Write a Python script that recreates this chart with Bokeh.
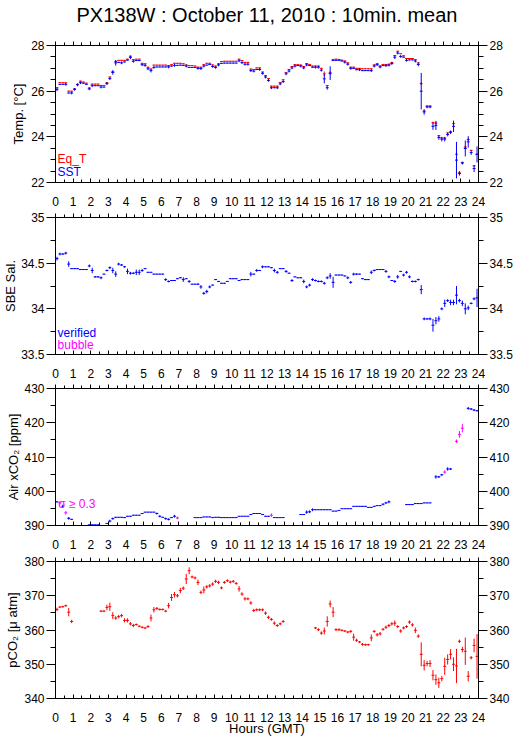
import numpy as np
from bokeh.plotting import figure
from bokeh.models import Range1d, LinearAxis, FixedTicker, Label
from bokeh.layouts import column
from bokeh.embed import file_html
from bokeh.resources import INLINE

N = None
FONT = "Liberation Sans"

title_text = "PX138W : October 11, 2010 : 10min. mean"
hour_ticks = list(range(25))
hour_minor = [h + 0.5 for h in range(24)]

# ---- Panel 1: temperatures (10-min bins, 6 per hour) ----
sst = [
    26.08, 26.30, 26.30, 26.30, 25.92, 25.92,
    26.08, 26.28, 26.37, 26.35, 26.30, 26.10,
    26.24, 26.24, 26.24, 26.18, 26.18, 26.33,
    26.55, 26.82, 27.24, 27.26, 27.24, 27.28,
    27.36, 27.48, 27.31, 27.34, 27.34, 27.16,
    27.13, 26.98, 26.90, 27.04, 27.06, 27.06,
    27.06, 27.06, 27.06, 27.10, 27.13, 27.13,
    27.14, 27.13, 27.10, 27.04, 27.04, 27.04,
    27.00, 26.99, 27.10, 27.14, 27.17, 27.08,
    27.04, 27.15, 27.22, 27.23, 27.23, 27.23,
    27.23, 27.23, 27.33, 27.25, 27.18, 27.18,
    26.90, 26.88, 26.95, 26.95, 26.78, 26.62,
    26.47, 26.15, 26.15, 26.15, 26.32, 26.42,
    26.76, 26.88, 27.02, 27.10, 27.12, 27.10,
    27.02, 27.15, 27.12, 27.05, 27.05, 27.05,
    26.92, 26.54, 26.15, 26.79, 27.34, 27.35,
    27.35, 27.32, 27.27, 27.18, 27.00, 27.00,
    26.94, 26.94, 26.90, 26.90, 26.90, 26.90,
    27.10, 27.16, 27.06, 27.12, 27.12, 27.14,
    27.21, 27.49, 27.67, 27.52, 27.49, 27.35,
    27.37, 27.37, 27.32, 27.17, 26.00, 25.09,
    25.31, 25.31, 24.46, 24.50, 23.97, 23.90,
    23.90, 24.10, 24.20, 24.46, 22.98, 22.40,
    22.85, 23.49, 23.78, 23.31, 22.61, 23.23,
]
sst_err = [
    0.08, 0.02, 0.02, 0.06, 0.02, 0.06,
    0.06, 0.06, 0.06, 0.02, 0.02, 0.06,
    0.06, 0.02, 0.02, 0.06, 0.02, 0.06,
    0.06, 0.10, 0.12, 0.02, 0.06, 0.02,
    0.02, 0.08, 0.06, 0.02, 0.02, 0.06,
    0.06, 0.06, 0.08, 0.06, 0.02, 0.02,
    0.02, 0.02, 0.06, 0.02, 0.06, 0.02,
    0.02, 0.02, 0.06, 0.02, 0.02, 0.02,
    0.06, 0.06, 0.06, 0.02, 0.02, 0.06,
    0.06, 0.06, 0.02, 0.02, 0.02, 0.02,
    0.02, 0.02, 0.06, 0.06, 0.06, 0.06,
    0.06, 0.06, 0.02, 0.06, 0.06, 0.06,
    0.06, 0.06, 0.02, 0.06, 0.06, 0.06,
    0.06, 0.06, 0.06, 0.06, 0.02, 0.06,
    0.06, 0.06, 0.02, 0.02, 0.06, 0.06,
    0.06, 0.20, 0.08, 0.30, 0.02, 0.02,
    0.02, 0.02, 0.06, 0.06, 0.06, 0.02,
    0.02, 0.06, 0.02, 0.02, 0.02, 0.06,
    0.06, 0.06, 0.06, 0.02, 0.06, 0.06,
    0.06, 0.08, 0.06, 0.06, 0.02, 0.06,
    0.02, 0.02, 0.06, 0.08, 0.80, 0.12,
    0.06, 0.06, 0.15, 0.20, 0.10, 0.10,
    0.10, 0.08, 0.08, 0.25, 0.80, 0.10,
    0.06, 0.35, 0.25, 0.10, 0.15, 0.35,
]
eqt = [
    26.15, 26.37, 26.37, 26.37, 26.00, 26.00,
    26.10, 26.30, 26.44, 26.40, 26.35, 26.14,
    26.31, 26.31, 26.31, 26.25, 26.25, 26.37,
    26.62, 26.85, 27.30, 27.35, 27.35, 27.35,
    27.40, 27.53, 27.38, 27.40, 27.40, 27.22,
    27.20, 27.05, 26.97, 27.14, 27.14, 27.14,
    27.14, 27.14, 27.12, 27.16, 27.22, 27.22,
    27.22, 27.20, 27.15, 27.12, 27.12, 27.10,
    27.05, 27.05, 27.16, 27.22, 27.22, 27.15,
    27.10, 27.20, 27.30, 27.31, 27.31, 27.31,
    27.31, 27.31, 27.40, 27.34, 27.26, 27.26,
    26.97, 26.95, 27.02, 27.02, 26.84, 26.68,
    26.55, 26.22, 26.22, 26.22, 26.38, 26.50,
    26.82, 26.95, 27.08, 27.16, 27.16, 27.14,
    27.08, 27.21, 27.17, 27.10, 27.10, 27.10,
    27.00, 26.76, 26.25, 26.79, 27.39, 27.40,
    27.39, 27.36, 27.32, 27.24, 27.05, 27.05,
    27.00, 27.00, 26.98, 26.98, 26.98, 26.98,
    27.15, 27.20, 27.10, 27.17, 27.17, 27.18,
    27.26, 27.56, 27.75, 27.64, 27.55, 27.43,
    27.43, 27.43, 27.38, 27.24, 26.33, 25.13,
    25.35, 25.35, 24.62, 24.60, 24.05, 23.95,
    23.95, 24.17, 24.22, 24.58, 23.24, 22.42,
    22.88, 23.55, 23.88, 23.41, 22.73, 23.24,
]
eqt_err = [
    0.02, 0.02, 0.02, 0.02, 0.02, 0.02,
    0.02, 0.02, 0.02, 0.02, 0.02, 0.02,
    0.02, 0.02, 0.02, 0.02, 0.02, 0.02,
    0.02, 0.02, 0.06, 0.02, 0.02, 0.02,
    0.02, 0.02, 0.02, 0.02, 0.02, 0.02,
    0.02, 0.02, 0.02, 0.02, 0.02, 0.02,
    0.02, 0.02, 0.02, 0.02, 0.02, 0.02,
    0.02, 0.02, 0.02, 0.02, 0.02, 0.02,
    0.02, 0.02, 0.02, 0.02, 0.02, 0.02,
    0.02, 0.02, 0.02, 0.02, 0.02, 0.02,
    0.02, 0.02, 0.02, 0.02, 0.02, 0.02,
    0.02, 0.02, 0.02, 0.02, 0.02, 0.02,
    0.02, 0.02, 0.02, 0.02, 0.02, 0.02,
    0.02, 0.02, 0.02, 0.02, 0.02, 0.02,
    0.02, 0.02, 0.02, 0.02, 0.02, 0.02,
    0.02, 0.10, 0.02, 0.08, 0.02, 0.02,
    0.02, 0.02, 0.02, 0.02, 0.02, 0.02,
    0.02, 0.02, 0.02, 0.02, 0.02, 0.02,
    0.02, 0.02, 0.02, 0.02, 0.02, 0.02,
    0.02, 0.02, 0.02, 0.02, 0.02, 0.02,
    0.02, 0.02, 0.02, 0.02, 0.06, 0.02,
    0.02, 0.02, 0.05, 0.06, 0.02, 0.02,
    0.02, 0.02, 0.02, 0.06, 0.10, 0.02,
    0.02, 0.06, 0.06, 0.02, 0.02, 0.02,
]

# ---- Panel 2: SBE salinity ----
sal = [
    34.55, 34.60, 34.60, 34.61, 34.49, 34.44,
    34.44, 34.44, 34.43, 34.43, 34.43, 34.47,
    34.42, 34.35, 34.35, 34.34, 34.38, 34.42,
    34.45, 34.42, 34.38, 34.49, 34.48, 34.46,
    34.41, 34.39, 34.39, 34.40, 34.40, 34.42,
    34.44, 34.40, 34.40, 34.38, 34.38, 34.38,
    34.38, 34.32, 34.30, 34.31, 34.31, 34.33,
    34.34, 34.32, 34.33, 34.30, 34.27, 34.27,
    34.27, 34.24, 34.17, 34.19, 34.24, 34.26,
    34.32, 34.30, 34.28, 34.28, 34.30, 34.33,
    34.33, 34.33, 34.31, 34.32, 34.32, 34.32,
    34.38, 34.38, 34.42, 34.42, 34.46, 34.46,
    34.46, 34.45, 34.42, 34.40, 34.44, 34.44,
    34.41, 34.39, 34.31, 34.35, 34.34, 34.34,
    34.30, 34.24, 34.26, 34.32, 34.31, 34.30,
    34.30, 34.28, 34.34, 34.36, 34.29, 34.37,
    34.37, 34.37, 34.36, 34.34, 34.29, 34.38,
    34.38, 34.38, 34.33, 34.32, 34.32, 34.40,
    34.42, 34.43, 34.43, 34.43, 34.41, 34.35,
    34.31, 34.30, 34.35, 34.41, 34.37, 34.40,
    34.35, 34.30, 34.30, 34.32, 34.21, 33.89,
    33.89, 33.89, 33.82, 33.87, 33.89, 34.00,
    34.06, 34.09, 34.07, 34.07, 34.15, 34.09,
    34.06, 34.00, 34.01, 34.06, 34.11, 34.12,
]
sal_err = [
    0.020, 0.015, 0.010, 0.015, 0.030, 0.005,
    0.005, 0.005, 0.005, 0.005, 0.005, 0.015,
    0.030, 0.010, 0.010, 0.015, 0.005, 0.010,
    0.015, 0.030, 0.030, 0.015, 0.010, 0.010,
    0.030, 0.015, 0.010, 0.030, 0.030, 0.015,
    0.005, 0.005, 0.005, 0.005, 0.005, 0.005,
    0.005, 0.015, 0.010, 0.005, 0.005, 0.005,
    0.005, 0.025, 0.005, 0.015, 0.005, 0.005,
    0.010, 0.020, 0.015, 0.020, 0.015, 0.005,
    0.005, 0.005, 0.005, 0.005, 0.005, 0.005,
    0.005, 0.005, 0.005, 0.005, 0.005, 0.005,
    0.025, 0.005, 0.015, 0.005, 0.015, 0.005,
    0.005, 0.005, 0.020, 0.015, 0.005, 0.005,
    0.015, 0.005, 0.015, 0.005, 0.005, 0.005,
    0.020, 0.015, 0.015, 0.015, 0.010, 0.010,
    0.010, 0.015, 0.015, 0.030, 0.060, 0.005,
    0.005, 0.005, 0.005, 0.015, 0.015, 0.015,
    0.010, 0.005, 0.005, 0.005, 0.005, 0.020,
    0.010, 0.005, 0.005, 0.005, 0.015, 0.015,
    0.005, 0.015, 0.020, 0.005, 0.015, 0.015,
    0.015, 0.010, 0.010, 0.010, 0.050, 0.015,
    0.010, 0.015, 0.070, 0.040, 0.030, 0.015,
    0.040, 0.015, 0.030, 0.030, 0.100, 0.020,
    0.030, 0.060, 0.025, 0.010, 0.015, 0.100,
]

# ---- Panel 3: air xCO2 ----
air = [
    396.9, 396.6, 395.6, 393.7, 392.1, 391.8,
    N, N, N, N, N, 390.2,
    390.2, 390.2, 390.2, 390.0, 390.0, 390.6,
    391.3, 392.0, 392.4, 392.4, 392.4, 392.3,
    392.7, 392.7, 393.0, 393.0, 393.0, 393.5,
    393.9, 393.9, 393.9, 393.9, 393.5, 392.7,
    392.4, 392.0, 391.8, 392.3, 392.7, 392.2,
    N, N, N, N, N, 392.3,
    392.3, 392.3, 392.5, 392.5, 392.5, 392.3,
    392.4, 392.4, 392.3, 392.3, 392.3, 392.3,
    392.3, 392.3, 392.7, 392.7, 392.7, 392.7,
    393.2, 393.5, 393.5, 393.5, 393.2, 392.7,
    392.7, 393.0, 392.3, 392.3, 392.3, 392.3,
    N, N, N, N, N, 393.2,
    393.2, 393.9, 394.0, 394.6, 394.6, 394.6,
    394.6, 394.6, 394.6, 394.6, 394.2, 394.2,
    394.4, 394.9, 394.9, 394.9, 394.9, 395.6,
    395.6, 395.6, 395.6, 395.6, 395.3, 395.3,
    395.6, 395.8, 395.8, 396.2, 396.6, 396.9,
    N, N, N, N, N, 396.1,
    396.1, 396.1, 396.4, 396.4, 396.4, 396.6,
    396.6, 396.6, N, 404.2, 404.2, 404.8,
    405.6, 406.5, 406.5, N, 414.6, 416.6,
    418.4, N, 424.2, 424.0, 423.7, 423.5,
]
air_err = [
    0.2, 0.5, 0.5, 0.5, 0.4, 0.1,
    N, N, N, N, N, 0.1,
    0.1, 0.1, 0.1, 0.1, 0.1, 0.1,
    0.4, 0.3, 0.1, 0.1, 0.1, 0.1,
    0.1, 0.1, 0.1, 0.1, 0.1, 0.1,
    0.1, 0.1, 0.1, 0.1, 0.3, 0.3,
    0.1, 0.3, 0.3, 0.1, 0.4, 0.4,
    N, N, N, N, N, 0.1,
    0.1, 0.1, 0.1, 0.1, 0.1, 0.1,
    0.1, 0.1, 0.1, 0.1, 0.1, 0.1,
    0.1, 0.1, 0.1, 0.1, 0.1, 0.1,
    0.1, 0.1, 0.1, 0.1, 0.1, 0.1,
    0.1, 0.5, 0.1, 0.1, 0.1, 0.1,
    N, N, N, N, N, 0.1,
    0.1, 0.5, 0.4, 0.4, 0.1, 0.1,
    0.1, 0.1, 0.1, 0.1, 0.1, 0.1,
    0.1, 0.1, 0.1, 0.1, 0.1, 0.1,
    0.1, 0.1, 0.1, 0.1, 0.1, 0.1,
    0.1, 0.1, 0.1, 0.3, 0.3, 0.4,
    N, N, N, N, N, 0.1,
    0.1, 0.1, 0.1, 0.1, 0.1, 0.1,
    0.1, 0.1, N, 0.5, 0.3, 0.3,
    0.5, 0.5, 0.3, N, 0.5, 1.0,
    1.2, N, 0.4, 0.3, 0.3, 0.2,
]
# bins flagged sigma >= 0.3 (magenta)
air_flag_bins = [1, 3, 41, 73, 132, 136, 137, 138]

# ---- Panel 4: pCO2 ----
pco2 = [
    366.0, 366.7, 366.8, 367.1, 365.2, 362.5,
    N, N, N, N, N, N,
    N, N, N, 365.5, 365.5, 366.6,
    366.8, 364.2, 363.5, 363.9, 364.2, 362.8,
    362.8, 361.8, 361.3, 361.6, 361.1, 360.8,
    360.6, 361.0, 363.5, 365.9, 366.3, 366.0,
    366.0, 365.5, 367.1, 369.5, 370.3, 370.0,
    371.5, 372.2, 374.9, 377.3, 375.5, 375.2,
    373.9, 371.0, 371.7, 372.6, 372.9, 373.4,
    374.2, 373.9, 372.3, 373.9, 374.4, 374.0,
    374.2, 373.6, 372.0, 370.5, 369.1, 369.1,
    367.9, 365.7, 365.9, 365.9, 365.9, 364.9,
    363.7, 363.1, 362.0, 361.3, 361.8, 362.5,
    N, N, N, N, N, N,
    N, N, N, N, 360.6, 360.1,
    359.1, 359.7, 362.5, 367.6, 365.2, 360.1,
    360.1, 359.9, 359.7, 359.4, 359.6, 357.9,
    357.0, 356.5, 355.8, 355.7, 355.7, 357.7,
    359.6, 358.6, 358.9, 360.2, 360.8, 361.3,
    361.8, 362.0, 361.0, 359.7, 360.6, 361.0,
    362.3, 361.5, 359.9, 358.2, 352.9, 349.7,
    350.2, 350.2, 346.8, 345.5, 344.6, 345.8,
    349.4, 351.4, 352.9, 350.0, 349.5, 356.7,
    354.3, 353.8, 346.5, 351.9, 355.5, 352.3,
]
pco2_err = [
    0.5, 0.3, 0.3, 0.3, 1.2, 0.5,
    N, N, N, N, N, N,
    N, N, N, 0.3, 0.3, 0.8,
    1.2, 1.0, 0.5, 0.5, 0.5, 0.6,
    0.6, 0.5, 0.5, 0.3, 0.3, 0.3,
    0.3, 0.4, 1.0, 0.8, 0.4, 0.3,
    0.3, 0.3, 0.8, 1.0, 0.8, 0.5,
    0.8, 0.5, 1.5, 1.0, 0.4, 0.4,
    0.8, 0.5, 1.0, 0.5, 0.5, 0.5,
    0.5, 0.5, 0.4, 0.4, 0.4, 0.4,
    0.4, 0.4, 0.8, 0.5, 0.5, 0.4,
    0.5, 0.5, 0.4, 0.4, 0.4, 0.5,
    0.5, 0.4, 0.5, 0.4, 0.4, 0.4,
    N, N, N, N, N, N,
    N, N, N, N, 0.3, 0.4,
    0.5, 1.0, 1.5, 1.0, 1.5, 0.4,
    0.4, 0.3, 0.3, 0.3, 0.4, 1.0,
    0.5, 0.3, 0.4, 0.3, 0.3, 1.0,
    0.4, 0.5, 0.5, 0.4, 0.5, 0.5,
    0.5, 0.8, 0.4, 0.5, 0.4, 0.4,
    0.5, 0.5, 0.8, 0.5, 3.5, 1.5,
    0.8, 1.0, 1.5, 1.5, 1.5, 0.8,
    2.5, 1.5, 1.5, 2.0, 5.0, 0.5,
    0.8, 4.0, 1.5, 0.5, 2.0, 6.5,
]

RED = "#ff0000"
BLUE = "#0000ff"
MAG = "#ff00ff"

t = (np.arange(144) + 0.5) / 6.0
half = 1.0 / 12.0

W = 515
BL = 52
BR = 36


def style_axis(ax, size="12px"):
    ax.axis_line_color = "black"
    ax.axis_line_width = 1
    ax.major_tick_line_color = "black"
    ax.minor_tick_line_color = "black"
    ax.major_label_text_font = FONT
    ax.major_label_text_font_size = size
    ax.major_label_text_color = "black"
    ax.axis_label_text_font = FONT
    ax.axis_label_text_font_size = "13px"
    ax.axis_label_text_font_style = "normal"
    ax.axis_label_text_color = "black"


def make_panel(height, top, bottom, yr, yt, ym, ylabel, yl_standoff, xlabel=None,
               top_label=None):
    p = figure(width=W, height=height, x_range=Range1d(0, 24), y_range=Range1d(*yr),
               output_backend="svg", toolbar_location=None,
               min_border_left=BL, min_border_right=BR,
               min_border_top=top, min_border_bottom=bottom,
               x_axis_location=None, y_axis_location=None)
    p.grid.visible = False
    p.outline_line_color = "black"
    p.outline_line_width = 1
    p.background_fill_color = "white"
    p.border_fill_color = "white"

    xb = LinearAxis(ticker=FixedTicker(ticks=hour_ticks, minor_ticks=hour_minor))
    style_axis(xb)
    xb.major_tick_in = 4
    xb.major_tick_out = 0
    xb.minor_tick_in = 3
    xb.minor_tick_out = 0
    xb.major_label_standoff = 14
    if xlabel:
        xb.axis_label = xlabel
        xb.axis_label_standoff = -4
    p.add_layout(xb, "below")

    xt = LinearAxis(ticker=FixedTicker(ticks=hour_ticks, minor_ticks=hour_minor))
    style_axis(xt, "1px")
    xt.major_label_text_color = None
    xt.major_tick_in = 0
    xt.major_tick_out = 4
    xt.minor_tick_in = 0
    xt.minor_tick_out = 3
    xt.major_label_standoff = 0
    if top_label:
        # chart title, carried by the top axis so it sits at the very top
        xt.axis_label = top_label
        xt.axis_label_text_font_size = "20px"
        xt.axis_label_standoff = 16
    p.add_layout(xt, "above")

    yl = LinearAxis(ticker=FixedTicker(ticks=yt, minor_ticks=ym))
    style_axis(yl)
    yl.major_tick_out = 9
    yl.major_tick_in = 0
    yl.minor_tick_out = 5
    yl.minor_tick_in = 0
    yl.major_label_standoff = 2
    yl.axis_label = ylabel
    yl.axis_label_standoff = yl_standoff
    p.add_layout(yl, "left")

    yr_ax = LinearAxis(ticker=FixedTicker(ticks=yt, minor_ticks=ym))
    style_axis(yr_ax)
    yr_ax.major_tick_out = 9
    yr_ax.major_tick_in = 0
    yr_ax.minor_tick_out = 5
    yr_ax.minor_tick_in = 0
    yr_ax.major_label_standoff = 2
    p.add_layout(yr_ax, "right")
    return p


def crosses(p, vals, errs, color, keep=None):
    v = np.array(vals, dtype=float)
    e = np.array(errs, dtype=float)
    ok = ~np.isnan(v)
    if keep is not None:
        ok &= keep
    tt, vv, ee = t[ok], v[ok], np.nan_to_num(e[ok])
    p.segment(x0=tt - half, x1=tt + half, y0=vv, y1=vv, line_color=color, line_width=1)
    p.segment(x0=tt, x1=tt, y0=vv - ee, y1=vv + ee, line_color=color, line_width=1)


def legend(p, x, y, text, color):
    p.add_layout(Label(x=x, y=y, text=text, text_color=color, text_font=FONT,
                       text_font_size="12px", text_baseline="alphabetic"))


# Panel 1
p1 = make_panel(211, 45, 29, (22, 28), [22, 24, 26, 28],
                [22.5, 23, 23.5, 24.5, 25, 25.5, 26.5, 27, 27.5],
                "Temp. [°C]", 2, top_label=title_text)
crosses(p1, eqt, eqt_err, RED)
crosses(p1, sst, sst_err, BLUE)
legend(p1, 0.12, 23.05, "Eq_T", RED)
legend(p1, 0.12, 22.48, "SST", BLUE)

# Panel 2
p2 = make_panel(171, 6, 28, (33.5, 35), [33.5, 34, 34.5, 35],
                [33.75, 34.25, 34.75], "SBE Sal.", 0)
crosses(p2, sal, sal_err, BLUE)
legend(p2, 0.12, 33.74, "verified", BLUE)
legend(p2, 0.12, 33.605, "bubble", MAG)

# Panel 3
flag = np.zeros(144, dtype=bool)
flag[air_flag_bins] = True
p3 = make_panel(173, 6, 30, (390, 430), [390, 400, 410, 420, 430],
                [395, 405, 415, 425], "Air xCO₂ [ppm]", 0)
crosses(p3, air, air_err, BLUE, ~flag)
crosses(p3, air, air_err, MAG, flag)
legend(p3, 0.15, 396.4, "σ ≥ 0.3", MAG)

# Panel 4
p4 = make_panel(183, 6, 40, (340, 380), [340, 350, 360, 370, 380],
                [345, 355, 365, 375], "pCO₂ [μ atm]", 1, xlabel="Hours (GMT)")
crosses(p4, pco2, pco2_err, RED)

layout = column(p1, p2, p3, p4, spacing=0)
open("out.html", "w").write(file_html(layout, INLINE))
